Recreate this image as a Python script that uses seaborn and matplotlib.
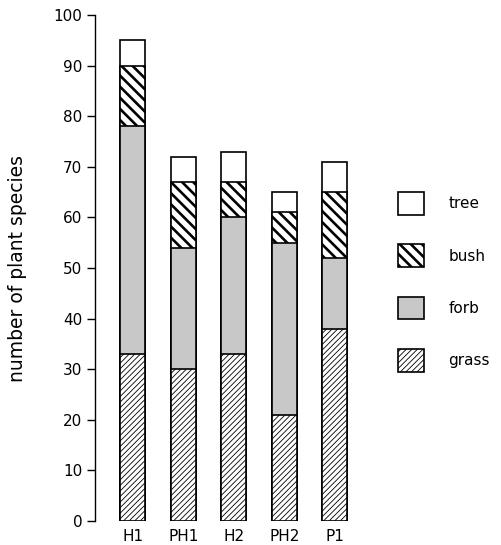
import matplotlib
matplotlib.use("Agg")
import matplotlib.pyplot as plt
import seaborn as sns
import numpy as np
import pandas as pd
from matplotlib.patches import Patch

sites = ["H1", "PH1", "H2", "PH2", "P1"]
grass = [33, 30, 33, 21, 38]
forb = [45, 24, 27, 34, 14]
bush = [12, 13, 7, 6, 13]
tree = [5, 5, 6, 4, 6]
yticks = [0, 10, 20, 30, 40, 50, 60, 70, 80, 90, 100]

sns.set_theme(style="white")
plt.rcParams["font.family"] = ["DejaVu Sans"]
plt.rcParams["text.color"] = "black"
plt.rcParams["axes.labelcolor"] = "black"
plt.rcParams["xtick.color"] = "black"
plt.rcParams["ytick.color"] = "black"

fig = plt.figure(figsize=(5.02, 5.45), dpi=100)
ax = fig.add_axes([95 / 502, 24 / 545, 270 / 502, 506 / 545])

df = pd.DataFrame({"site": sites, "grass": grass, "forb": forb, "bush": bush, "tree": tree})
df["c_grass"] = df["grass"]
df["c_forb"] = df["c_grass"] + df["forb"]
df["c_bush"] = df["c_forb"] + df["bush"]
df["c_tree"] = df["c_bush"] + df["tree"]

layers = [
    ("c_tree", "tree", "white", None, 1.0),
    ("c_bush", "bush", "white", "\\\\\\", 1.9),
    ("c_forb", "forb", "#c8c8c8", None, 1.0),
    ("c_grass", "grass", "white", "//////", 0.6),
]
for col, name, fc, hatch, hlw in layers:
    plt.rcParams["hatch.linewidth"] = hlw
    sns.barplot(data=df, x="site", y=col, ax=ax, color=fc, saturation=1,
                width=0.5, edgecolor="black", linewidth=1.2, hatch=hatch, errorbar=None)

ax.set_xlim(-0.75, 4.6)
ax.set_ylim(0, 100)
ax.set_yticks(yticks)
ax.set_yticklabels([str(t) for t in yticks], fontsize=11)
ax.set_xlabel("")
ax.set_ylabel("number of plant species", fontsize=13.5, labelpad=19)
ax.tick_params(axis="y", direction="out", length=6, width=1, left=True, pad=3)
ax.tick_params(axis="x", length=0, labelsize=11, pad=6)
for s in ["top", "right", "bottom"]:
    ax.spines[s].set_visible(False)
ax.spines["left"].set_color("black")
ax.spines["left"].set_linewidth(1)

handles = []
for col, name, fc, hatch, hlw in layers:
    handles.append(Patch(facecolor=fc, edgecolor="black", hatch=hatch, linewidth=1.2, label=name))
leg = fig.legend(handles=handles, loc="upper left", bbox_to_anchor=(398 / 502, 1 - 192 / 545),
                 frameon=False, fontsize=11, handlelength=1.7, handleheight=1.9,
                 labelspacing=1.95, handletextpad=1.6, borderaxespad=0, borderpad=0)
for p, (col, name, fc, hatch, hlw) in zip(leg.get_patches(), layers):
    if hasattr(p, "set_hatch_linewidth"):
        p.set_hatch_linewidth(hlw)
    else:
        p._hatch_linewidth = hlw

fig.savefig("out.png", dpi=100)
